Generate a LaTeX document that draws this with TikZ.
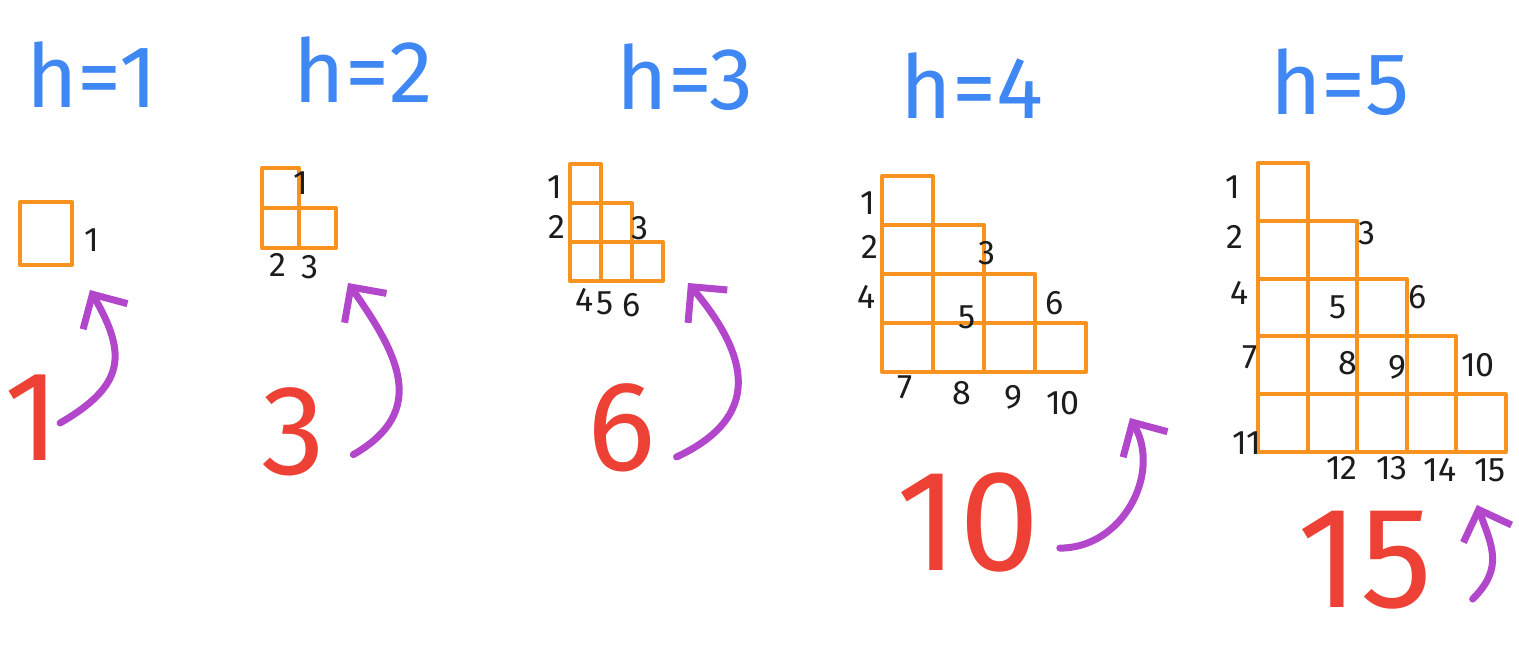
\documentclass[tikz,border=0pt]{standalone}
\usepackage{fontspec}
\setmainfont{Fira Sans}
\usetikzlibrary{arrows.meta, positioning}
\definecolor{PenBlue}{HTML}{3F87F2}
\definecolor{PenOrange}{HTML}{F7931E}
\definecolor{PenRed}{HTML}{EE4136}
\definecolor{PenPurple}{HTML}{B347CC}
\definecolor{PenBlack}{HTML}{1C1C1C}
\tikzset{
  cell/.style={draw=PenOrange, line width=2pt, line join=round},
  header/.style={text=PenBlue, font=\fontsize{44}{44}\selectfont, inner sep=0pt},
  idx/.style={text=PenBlack, font=\fontsize{17}{17}\selectfont, inner sep=1pt},
  total/.style={text=PenRed, font=\fontsize{64}{64}\selectfont, inner sep=0pt},
  growarrow/.style={-{Straight Barb[length=4.5mm, width=9mm]}, draw=PenPurple, line width=3.5pt, line cap=round, line join=round}
}

\begin{document}
\begin{tikzpicture}[x=0.5pt, y=-0.5pt]
\useasboundingbox (0,0) rectangle (1519,644);

% headers
\node[header] (head1) at (92,75) {h=1};
\node[header] (head2) at (363,70) {h=2};
\node[header] (head3) at (685,77) {h=3};
\node[header] (head4) at (972,86) {h=4};
\node[header] (head5) at (1340,82) {h=5};

% staircases
\draw[cell] (20,202) rectangle ++(52,63);
\foreach \r in {1,2} \foreach \c in {1,...,\r}
  \draw[cell] ({262+(\c-1)*37},{168+(\r-1)*40}) rectangle ++(37,40);
\foreach \r in {1,2,3} \foreach \c in {1,...,\r}
  \draw[cell] ({570+(\c-1)*31},{164+(\r-1)*39}) rectangle ++(31,39);
\foreach \r in {1,...,4} \foreach \c in {1,...,\r}
  \draw[cell] ({882+(\c-1)*51},{176+(\r-1)*49}) rectangle ++(51,49);
\foreach \r in {1,...,5} \foreach \c in {1,...,\r}
  \draw[cell] ({1258+(\c-1)*49.5},{163+(\r-1)*57.8}) rectangle ++(49.5,57.8);

% cell numbers
\node[idx] (s1-1) at (92,240) {1};
\foreach \k/\x/\y in {1/301/183, 2/278/265, 3/310/267}
  \node[idx] (s2-\k) at (\x,\y) {\k};
\foreach \k/\x/\y in {1/555/187, 2/557/227, 3/640/228, 4/585/300, 5/605/303, 6/632/305}
  \node[idx] (s3-\k) at (\x,\y) {\k};
\foreach \k/\x/\y in {1/868/203, 2/870/247, 3/987/253, 4/867/297, 5/967/317,
    6/1055/303, 7/905/387, 8/962/393, 9/1013/397, 10/1063/403}
  \node[idx] (s4-\k) at (\x,\y) {\k};
\foreach \k/\x/\y in {1/1233/187, 2/1235/237, 3/1367/233, 4/1240/293, 5/1338/307,
    6/1418/297, 7/1250/357, 8/1348/363, 9/1397/367, 10/1478/365,
    11/1247/443, 12/1342/468, 13/1392/468, 14/1440/470, 15/1490/470}
  \node[idx] (s5-\k) at (\x,\y) {\k};

% totals
\node[total] (tot1) at (32,418) {1};
\node[total] (tot2) at (293,432) {3};
\node[total] (tot3) at (622,428) {6};
\node[total, font=\fontsize{72}{72}\selectfont] (tot4) at (968,522) {10};
\node[total, font=\fontsize{72}{72}\selectfont] (tot5) at (1365,560) {15};

\coordinate (tip1) at (90,290);
\coordinate (tip2) at (348,283);
\coordinate (tip3) at (688,283);
\coordinate (tip4) at (1130,418);
\coordinate (tip5) at (1477,505);

\draw[growarrow] (tot1.-10) to[out=30, in=-60, looseness=1.4] (tip1);
\draw[growarrow] ([xshift=14pt]tot2.-35) to[out=30, in=-55, looseness=1.3] (tip2);
\draw[growarrow] ([xshift=10pt]tot3.-40) to[out=25, in=-50, looseness=1.4] (tip3);
\draw[growarrow] ([xshift=10pt]tot4.-20) to[out=0, in=-60, looseness=1.1] (tip4);
\draw[growarrow] ([xshift=20pt]tot5.-30) to[out=45, in=-70, looseness=1.2] (tip5);
\end{tikzpicture}
\end{document}
